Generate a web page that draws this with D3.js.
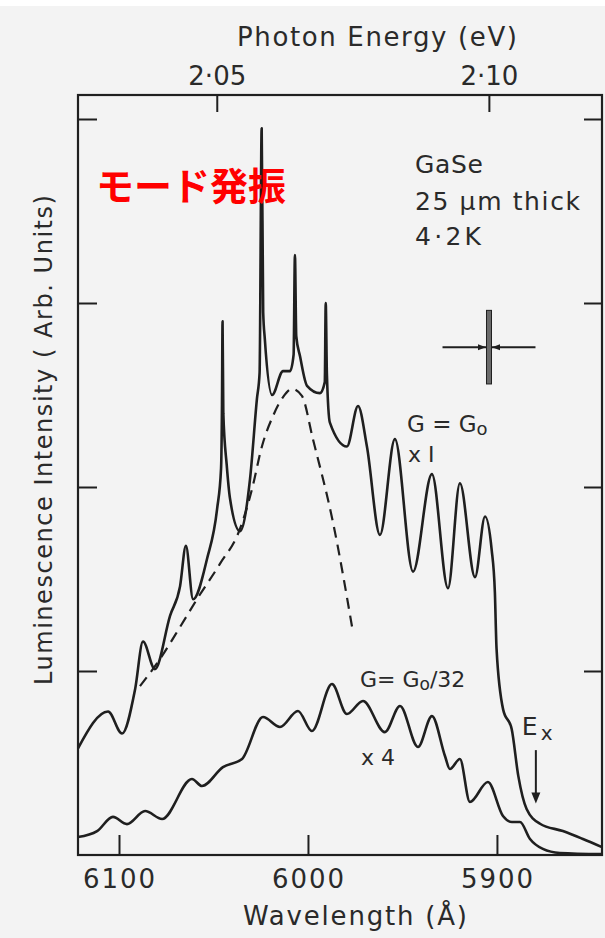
<!DOCTYPE html>
<html>
<head>
<meta charset="utf-8">
<script src="https://cdnjs.cloudflare.com/ajax/libs/d3/7.8.5/d3.min.js"></script>
<style>
  html, body { margin: 0; padding: 0; background: #f3f3f3; }
  svg { display: block; }
  text { font-family: "DejaVu Sans", sans-serif; fill: #2a2a2a; }
</style>
</head>
<body>
<svg id="chart" width="605" height="938"></svg>
<script>
// ---- Spectra: wavelength (Å) and luminescence intensity (arb. units) ----
// G = G0, x1 (with mode spikes)
const highGainWl = [6121.7, 6105.8, 6098.4, 6091.5, 6087.3, 6081.0, 6073.0, 6067.7, 6064.6, 6060.8,
  6053.4, 6048.1, 6046.0, 6045.5, 6045.2, 6044.8, 6043.0, 6041.3, 6036.0, 6030.7, 6027.0,
  6025.6, 6024.5, 6023.7, 6022.8, 6019.0, 6013.2, 6009.5, 6007.6, 6006.9, 6006.2, 6004.2,
  6000.5, 5993.7, 5991.1, 5990.6, 5990.0, 5988.4, 5979.4, 5973.5, 5968.8, 5961.9, 5954.0,
  5944.4, 5934.4, 5925.9, 5919.6, 5911.6, 5906.3, 5902.8, 5901.1, 5900.2, 5896.7, 5892.2,
  5888.7, 5884.3, 5877.2, 5865.1, 5854.5, 5844.4];
const highGainI = [0.58, 0.78, 0.66, 0.90, 1.16, 1.01, 1.30, 1.46, 1.68, 1.39,
  1.61, 1.88, 2.10, 2.45, 2.90, 2.40, 2.12, 1.94, 1.76, 2.04, 2.48,
  2.62, 3.95, 2.95, 2.80, 2.50, 2.63, 2.63, 2.72, 3.26, 2.82, 2.71,
  2.55, 2.51, 2.57, 3.00, 2.62, 2.35, 2.22, 2.44, 2.22, 1.74, 2.26,
  1.54, 2.07, 1.45, 2.02, 1.51, 1.84, 1.66, 1.43, 1.12, 0.79, 0.685,
  0.43, 0.25, 0.17, 0.13, 0.087, 0.043];

// Spontaneous background under the spikes (dashed)
const backgroundWl = [6088.9, 6078.3, 6067.7, 6058.7, 6046.6, 6036.0, 6029.6, 6024.3, 6018.5,
  6013.2, 6008.5, 6003.2, 5997.4, 5986.8, 5976.2];
const backgroundI = [0.918, 1.065, 1.239, 1.391, 1.582, 1.772, 1.989, 2.223, 2.386,
  2.489, 2.533, 2.495, 2.261, 1.810, 1.212];

// G = G0/32, x4
const lowGainWl = [6121.7, 6111.6, 6103.2, 6095.8, 6086.2, 6077.2, 6061.4, 6056.1, 6045.0, 6034.9,
  6023.8, 6014.8, 6005.3, 5997.9, 5987.3, 5979.4, 5970.9, 5959.3, 5951.3, 5941.8, 5934.4,
  5927.5, 5924.9, 5919.6, 5914.3, 5904.8, 5896.8, 5892.1, 5887.8, 5882.5, 5875.7, 5866.7, 5844.4];
const lowGainI = [0.098, 0.13, 0.207, 0.168, 0.239, 0.196, 0.413, 0.375, 0.478, 0.522,
  0.75, 0.696, 0.783, 0.674, 0.929, 0.766, 0.837, 0.668, 0.810, 0.587, 0.755,
  0.538, 0.467, 0.522, 0.288, 0.397, 0.212, 0.179, 0.179, 0.087, 0.033, 0.011, 0.005];

// ---- Axes ----
const wlTicks = [6100, 6000, 5900];
const wlLabels = ["6100", "6000", "5900"];
const energyTicks = [2.05, 2.10];
const energyLabels = ["2·05", "2·10"];
const intensityTicks = [1, 2, 3, 4];
const HC = 12398.4; // eV·Å

// Resolution cross (wavelength ± half-width, intensity ± half-height)
const resWl = 5904.2, resDWl = 24.6, resI = 2.76, resDI = 0.2;
// Exciton position marker
const exWl = 5879.4, exTopI = 0.57, exTipI = 0.28;

const frame = { left: 78, right: 602, top: 95, bottom: 855 };
const ink = "#1f1f1f";

const svg = d3.select("#chart");
svg.append("rect").attr("x", 0).attr("y", 0).attr("width", 605).attr("height", 6).attr("fill", "#ffffff");

const x = d3.scaleLinear().domain([6121.7, 5844.4]).range([frame.left, frame.right]);
const y = d3.scaleLinear().domain([0, 4]).range([frame.bottom, frame.bottom - 4 * 184]);

// frame
svg.append("rect")
  .attr("x", frame.left).attr("y", frame.top)
  .attr("width", frame.right - frame.left).attr("height", frame.bottom - frame.top)
  .attr("fill", "none").attr("stroke", ink).attr("stroke-width", 2.2);

function styleAxis(g) {
  g.select(".domain").remove();
  g.selectAll(".tick line").attr("stroke", ink).attr("stroke-width", 2);
}

// bottom wavelength ticks (pointing inward)
svg.append("g").attr("transform", `translate(0,${frame.bottom})`)
  .call(d3.axisBottom(x).tickValues(wlTicks).tickSizeInner(-20).tickSizeOuter(0).tickFormat(""))
  .call(styleAxis);

svg.append("g").selectAll("text").data(wlTicks).join("text")
  .attr("x", d => x(d)).attr("y", frame.bottom + 33)
  .attr("text-anchor", "middle").attr("font-size", 26)
  .attr("textLength", 72).attr("lengthAdjust", "spacing")
  .text((d, i) => wlLabels[i]);

// left & right intensity ticks
svg.append("g").attr("transform", `translate(${frame.left},0)`)
  .call(d3.axisLeft(y).tickValues(intensityTicks).tickSizeInner(-19).tickSizeOuter(0).tickFormat(""))
  .call(styleAxis);
svg.append("g").attr("transform", `translate(${frame.right},0)`)
  .call(d3.axisRight(y).tickValues(intensityTicks).tickSizeInner(-18).tickSizeOuter(0).tickFormat(""))
  .call(styleAxis);

// top photon-energy ticks, positioned through wavelength = hc / E
svg.append("g").selectAll("line").data(energyTicks).join("line")
  .attr("x1", d => x(HC / d)).attr("x2", d => x(HC / d))
  .attr("y1", frame.top).attr("y2", frame.top + 17)
  .attr("stroke", ink).attr("stroke-width", 2);
svg.append("g").selectAll("text").data(energyTicks).join("text")
  .attr("x", d => x(HC / d)).attr("y", frame.top - 10)
  .attr("text-anchor", "middle").attr("font-size", 26)
  .attr("textLength", 58).attr("lengthAdjust", "spacing")
  .text((d, i) => energyLabels[i]);

// axis titles
svg.append("text").attr("x", 377).attr("y", 46).attr("text-anchor", "middle")
  .attr("font-size", 26).attr("textLength", 280).attr("lengthAdjust", "spacing")
  .text("Photon Energy (eV)");
svg.append("text").attr("x", 355).attr("y", 925).attr("text-anchor", "middle")
  .attr("font-size", 26).attr("textLength", 224).attr("lengthAdjust", "spacing")
  .text("Wavelength (Å)");
svg.append("text").attr("transform", "translate(52,440) rotate(-90)")
  .attr("text-anchor", "middle").attr("font-size", 24)
  .attr("textLength", 490).attr("lengthAdjust", "spacing")
  .text("Luminescence Intensity ( Arb. Units)");

// ---- curves ----
const line = d3.line().x(d => x(d[0])).y(d => y(d[1])).curve(d3.curveMonotoneX);
const zip = (a, b) => a.map((v, i) => [v, b[i]]);

svg.append("path").datum(zip(backgroundWl, backgroundI))
  .attr("d", line).attr("fill", "none").attr("stroke", ink)
  .attr("stroke-width", 2.2).attr("stroke-dasharray", "11,7");
svg.append("path").datum(zip(lowGainWl, lowGainI))
  .attr("d", line).attr("fill", "none").attr("stroke", ink)
  .attr("stroke-width", 2.6).attr("stroke-linejoin", "round");
svg.append("path").datum(zip(highGainWl, highGainI))
  .attr("d", line).attr("fill", "none").attr("stroke", ink)
  .attr("stroke-width", 2.6).attr("stroke-linejoin", "round");

// ---- resolution cross ----
const rc = svg.append("g");
rc.append("line")
  .attr("x1", x(resWl + resDWl)).attr("x2", x(resWl - resDWl))
  .attr("y1", y(resI)).attr("y2", y(resI))
  .attr("stroke", ink).attr("stroke-width", 2);
rc.append("rect")
  .attr("x", x(resWl) - 2.5).attr("y", y(resI + resDI))
  .attr("width", 5).attr("height", y(resI - resDI) - y(resI + resDI))
  .attr("fill", "#6a6a6a").attr("stroke", ink).attr("stroke-width", 1);
const cx = x(resWl), cy = y(resI);
rc.append("path")
  .attr("d", `M${cx - 11},${cy - 3} L${cx - 3},${cy} L${cx - 11},${cy + 3} Z M${cx + 11},${cy - 3} L${cx + 3},${cy} L${cx + 11},${cy + 3} Z`)
  .attr("fill", ink);

// ---- exciton arrow ----
const ex = x(exWl);
svg.append("line").attr("x1", ex).attr("x2", ex)
  .attr("y1", y(exTopI)).attr("y2", y(exTipI) - 8)
  .attr("stroke", ink).attr("stroke-width", 2);
svg.append("path")
  .attr("d", `M${ex - 4.5},${y(exTipI) - 11} L${ex + 4.5},${y(exTipI) - 11} L${ex},${y(exTipI)} Z`)
  .attr("fill", ink);
const exLabel = svg.append("text").attr("x", ex - 14).attr("y", y(exTopI) - 15).attr("font-size", 25);
exLabel.append("tspan").text("E");
exLabel.append("tspan").attr("font-size", 20).attr("dx", 3).attr("dy", 5).text("x");

// ---- annotations ----
const note = svg.append("g").attr("font-size", 25);
note.append("text").attr("x", 415).attr("y", 173).attr("textLength", 68).attr("lengthAdjust", "spacing").text("GaSe");
note.append("text").attr("x", 415).attr("y", 210).attr("textLength", 165).attr("lengthAdjust", "spacing").text("25 μm thick");
note.append("text").attr("x", 415).attr("y", 245).attr("textLength", 66).attr("lengthAdjust", "spacing").text("4·2K");

const g1 = svg.append("text").attr("x", 407).attr("y", 432).attr("font-size", 23);
g1.append("tspan").text("G = G");
g1.append("tspan").attr("font-size", 18).attr("dy", 3).text("o");
svg.append("text").attr("x", 408).attr("y", 462).attr("font-size", 22).text("x I");

const g2 = svg.append("text").attr("x", 360).attr("y", 687).attr("font-size", 22);
g2.append("tspan").text("G= G");
g2.append("tspan").attr("font-size", 17).attr("dy", 3).text("o");
g2.append("tspan").attr("dy", -3).text("/32");
svg.append("text").attr("x", 361).attr("y", 765).attr("font-size", 22).text("x 4");

svg.append("text").attr("x", 96).attr("y", 200)
  .style("font-family", '"Noto Sans CJK JP", sans-serif').style("fill", "#ff0000")
  .attr("font-weight", "bold").attr("font-size", 38)
  .text("モード発振");
</script>
</body>
</html>
